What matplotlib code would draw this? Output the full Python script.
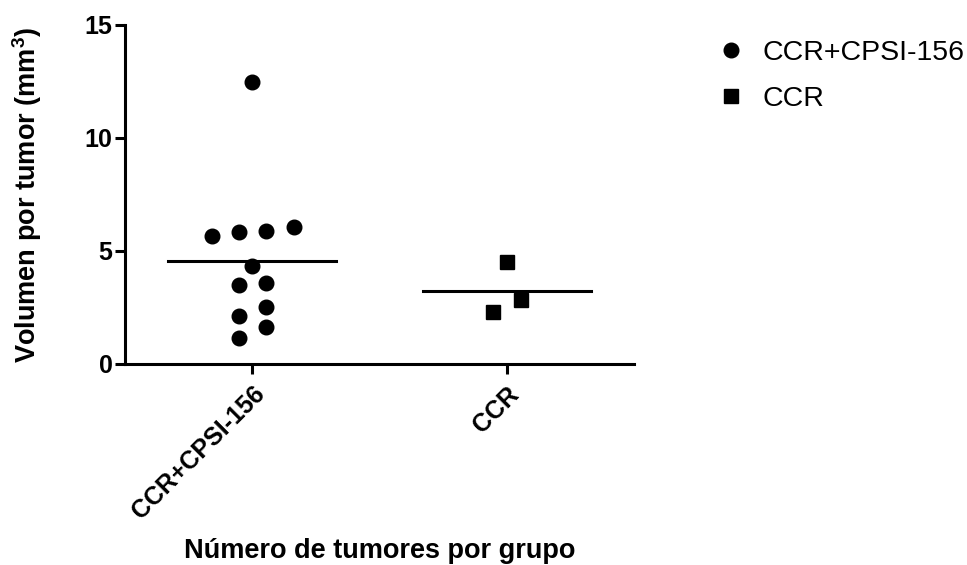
import matplotlib
matplotlib.use('Agg')
import matplotlib.pyplot as plt
import matplotlib.transforms as mtransforms
import numpy as np

# data
groups = ['CCR+CPSI-156', 'CCR']
cpsi_vals = [12.49, 5.66, 5.83, 5.88, 6.08, 4.34, 3.50, 3.60, 2.54, 2.12, 1.62, 1.14]
cpsi_offs = [0.0, -0.158, -0.051, 0.055, 0.162, 0.0, -0.051, 0.055, 0.055, -0.051, 0.055, -0.051]
ccr_vals = [4.53, 2.83, 2.31]
ccr_offs = [0.0, 0.055, -0.055]

plt.rcParams['font.family'] = 'Liberation Sans'
plt.rcParams['mathtext.fontset'] = 'custom'
plt.rcParams['mathtext.rm'] = 'Liberation Sans:bold'
plt.rcParams['mathtext.bf'] = 'Liberation Sans:bold'

fig = plt.figure(figsize=(9.67, 5.65), dpi=100)
ax = fig.add_axes([0.1293, 0.3558, 0.5264, 0.6])

ax.plot(np.array(cpsi_offs) + 0, cpsi_vals, 'o', color='black', markersize=10.5,
        linestyle='none', label=groups[0])
ax.plot(np.array(ccr_offs) + 1, ccr_vals, 's', color='black', markersize=9.5,
        linestyle='none', label=groups[1])

# mean lines
for i, v in enumerate([cpsi_vals, ccr_vals]):
    m = np.mean(v)
    ax.plot([i - 0.33, i + 0.33], [m, m], color='black', lw=2.2)

ax.set_xlim(-0.5, 1.5)
ax.set_ylim(0, 15)
ax.set_yticks([0, 5, 10, 15])
ax.set_xticks([0, 1])
ax.set_xticklabels(groups, rotation=45, ha='right', rotation_mode='anchor',
                   fontweight='bold', fontsize=18)
shift = mtransforms.ScaledTranslation(-6 / 100, 0, fig.dpi_scale_trans)
for t in ax.get_xticklabels():
    t.set_transform(t.get_transform() + shift)
for t in ax.get_yticklabels():
    t.set_fontweight('bold')
    t.set_fontsize(18)

for s in ['top', 'right']:
    ax.spines[s].set_visible(False)
for s in ['left', 'bottom']:
    ax.spines[s].set_linewidth(2.2)
ax.tick_params(width=2.2, length=7, pad=2)
ax.tick_params(axis='x', pad=6)

ax.set_ylabel(r'Volumen por tumor (mm$^{3}$)', fontsize=19.5, fontweight='bold', labelpad=29)
ax.set_xlabel('Número de tumores por grupo', fontsize=19.5, fontweight='bold', labelpad=10)

fig.legend(loc='upper left', bbox_to_anchor=(0.715, 0.975), frameon=False,
           fontsize=20.5, handletextpad=0.6, labelspacing=0.7, handlelength=1.0)

fig.savefig('out.png', dpi=100)
